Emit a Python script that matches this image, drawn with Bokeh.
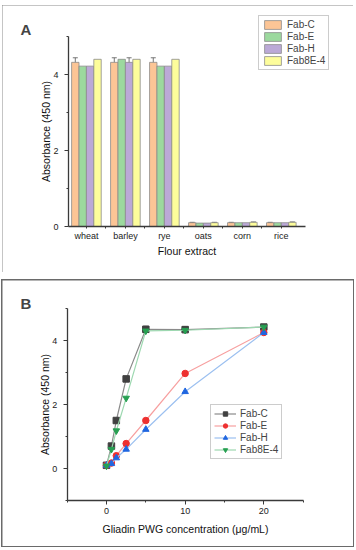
from bokeh.plotting import figure
from bokeh.layouts import column
from bokeh.models import (ColumnDataSource, FixedTicker, Legend, LegendItem, Label,
                          Whisker, TeeHead, Range1d, LinearAxis)
from bokeh.embed import file_html
from bokeh.resources import INLINE

# ---------------- Data: panel A ----------------
categories = ["wheat", "barley", "rye", "oats", "corn", "rice"]
series_a = ["Fab-C", "Fab-E", "Fab-H", "Fab8E-4"]
fab_c_a = [4.32, 4.32, 4.32, 0.10, 0.10, 0.10]
fab_e_a = [4.22, 4.40, 4.22, 0.09, 0.10, 0.10]
fab_h_a = [4.22, 4.32, 4.22, 0.09, 0.10, 0.10]
fab8_a = [4.40, 4.40, 4.40, 0.10, 0.11, 0.11]
err_c_a = [0.12, 0.12, 0.12, 0.01, 0.01, 0.01]
err_e_a = [0.0, 0.0, 0.0, 0.0, 0.0, 0.0]
err_h_a = [0.0, 0.12, 0.0, 0.0, 0.0, 0.0]
err8_a = [0.0, 0.0, 0.0, 0.01, 0.01, 0.01]
y_ticks_a = [0, 2, 4]

# ---------------- Data: panel B ----------------
conc = [0, 0.625, 1.25, 2.5, 5, 10, 20]
fab_c_b = [0.10, 0.70, 1.50, 2.80, 4.35, 4.34, 4.42]
fab_e_b = [0.10, 0.17, 0.40, 0.78, 1.50, 2.97, 4.25]
fab_h_b = [0.10, 0.15, 0.33, 0.60, 1.22, 2.40, 4.25]
fab8_b = [0.08, 0.60, 1.18, 2.20, 4.30, 4.32, 4.42]
err_c_b = [0.0, 0.0, 0.08, 0.0, 0.10, 0.10, 0.0]
x_ticks_b = [0, 10, 20]
y_ticks_b = [0, 2, 4]

FONT = "Liberation Sans"
AXIS_COLOR = "#3a3a3a"

def style_axis(ax, label_standoff, tick_label_standoff):
    ax.axis_line_color = AXIS_COLOR
    ax.axis_line_width = 1.3
    ax.major_tick_line_color = AXIS_COLOR
    ax.minor_tick_line_color = AXIS_COLOR
    ax.major_tick_out = 4
    ax.major_tick_in = 0
    ax.minor_tick_out = 2
    ax.minor_tick_in = 0
    ax.major_label_text_font = FONT
    ax.major_label_text_font_size = "9px"
    ax.major_label_text_color = "#222222"
    ax.axis_label_text_font = FONT
    ax.axis_label_text_font_size = "10.5px"
    ax.axis_label_text_font_style = "normal"
    ax.axis_label_text_color = "#111111"
    ax.axis_label_standoff = label_standoff
    ax.major_label_standoff = tick_label_standoff

def base_fig(w, h, xr, yr, margin, outline):
    p = figure(frame_width=w, frame_height=h, output_backend="svg", toolbar_location=None,
               x_range=Range1d(*xr), y_range=Range1d(*yr),
               x_axis_location=None, y_axis_location=None,
               min_border_left=0, min_border_right=0, min_border_top=0, min_border_bottom=0,
               margin=margin, styles={"outline": outline, "outline-offset": "-1px"})
    p.xgrid.visible = False
    p.ygrid.visible = False
    p.outline_line_color = None
    return p

# ---------------- Panel A ----------------
pa = base_fig(351, 267, (-1.153, 7.852), (-1.2105, 5.8158), (5, 0, 0, 2), "1px solid #8a8a8a")
ya = LinearAxis(fixed_location=0.54, bounds=(0, 5), axis_label="Absorbance (450 nm)",
                ticker=FixedTicker(ticks=y_ticks_a, minor_ticks=[1, 3, 5]))
style_axis(ya, -2, 6)
pa.add_layout(ya, "left")
xs = list(range(1, len(categories) + 1))
xa = LinearAxis(fixed_location=0, bounds=(0.54, 6.62), axis_label="Flour extract",
                ticker=FixedTicker(ticks=xs, minor_ticks=[i + 0.5 for i in range(1, len(categories))]),
                major_label_overrides={i + 1: c for i, c in enumerate(categories)})
style_axis(xa, 1, 2)
xa.major_tick_out = 2
pa.add_layout(xa, "below")

colors_a = ["#FCC596", "#9CD99E", "#BBA9D7", "#FDFD9B"]
vals_a = [fab_c_a, fab_e_a, fab_h_a, fab8_a]
errs_a = [err_c_a, err_e_a, err_h_a, err8_a]
bw = 0.19
offsets = [-1.5 * bw, -0.5 * bw, 0.5 * bw, 1.5 * bw]
items_a = []
for name, col, v, e, off in zip(series_a, colors_a, vals_a, errs_a, offsets):
    xpos = [x + off for x in xs]
    src = ColumnDataSource(dict(x=xpos, top=v))
    r = pa.vbar(x="x", top="top", width=bw, bottom=0, source=src,
                fill_color=col, line_color="#8c8c8c", line_width=0.8)
    items_a.append(LegendItem(label=name, renderers=[r]))
    ex = [xx for xx, ee in zip(xpos, e) if ee > 0]
    if ex:
        vv = [vv for vv, ee in zip(v, e) if ee > 0]
        ee_ = [ee for ee in e if ee > 0]
        esrc = ColumnDataSource(dict(x=ex, upper=[a + b for a, b in zip(vv, ee_)],
                                     lower=[a - b for a, b in zip(vv, ee_)]))
        w = Whisker(source=esrc, base="x", upper="upper", lower="lower",
                    line_color="#555555", line_width=0.8,
                    upper_head=TeeHead(size=5, line_color="#555555", line_width=0.8),
                    lower_head=TeeHead(size=5, line_color="#555555", line_width=0.8))
        pa.add_layout(w)

leg_a = Legend(items=items_a, location=(256, 202), orientation="vertical",
               glyph_width=21, glyph_height=11, label_text_font=FONT,
               label_text_font_size="10px", label_height=11, spacing=1,
               padding=3, margin=0, label_standoff=4,
               border_line_color="#9a9a9a", border_line_width=1,
               background_fill_alpha=1)
pa.add_layout(leg_a, "center")
pa.add_layout(Label(x=18, y=243, x_units="screen", y_units="screen", text="A",
                    text_font=FONT, text_font_size="15px", text_font_style="bold",
                    text_baseline="alphabetic"))

# ---------------- Panel B ----------------
pb = base_fig(351, 266, (-13.22, 31.40), (-2.4375, 5.875), (8, 0, 0, 2), "2px solid #6a6a6a")
yb = LinearAxis(fixed_location=-5, bounds=(-1, 5), axis_label="Absorbance (450 nm)",
                ticker=FixedTicker(ticks=y_ticks_b, minor_ticks=[-1, 1, 3, 5]))
style_axis(yb, -2, 6)
pb.add_layout(yb, "left")
xb = LinearAxis(fixed_location=-1, bounds=(-5, 25),
                axis_label="Gliadin PWG concentration (\u03bcg/mL)",
                ticker=FixedTicker(ticks=x_ticks_b, minor_ticks=[-5, 5, 15, 25]))
style_axis(xb, 6, 3)
pb.add_layout(xb, "below")

# error bars (Fab-C)
ebx = [x for x, e in zip(conc, err_c_b) if e > 0]
eby = [y for y, e in zip(fab_c_b, err_c_b) if e > 0]
ebe = [e for e in err_c_b if e > 0]
esrc_b = ColumnDataSource(dict(x=ebx, upper=[a + b for a, b in zip(eby, ebe)],
                               lower=[a - b for a, b in zip(eby, ebe)]))
pb.add_layout(Whisker(source=esrc_b, base="x", upper="upper", lower="lower",
                      line_color="#9a9a9a", line_width=0.8,
                      upper_head=TeeHead(size=5, line_color="#9a9a9a", line_width=0.8),
                      lower_head=TeeHead(size=5, line_color="#9a9a9a", line_width=0.8)))

series_b = [
    ("Fab-C", fab_c_b, "#8a8a8a", "#404040", "square"),
    ("Fab-E", fab_e_b, "#F7A0A0", "#EE3030", "circle"),
    ("Fab-H", fab_h_b, "#9CC0F0", "#1F66E0", "triangle"),
    ("Fab8E-4", fab8_b, "#9DD8B0", "#27A052", "inverted_triangle"),
]
items_b = []
for name, vals, lcol, mcol, mk in series_b:
    src = ColumnDataSource(dict(x=conc, y=vals))
    ln = pb.line("x", "y", source=src, line_color=lcol, line_width=1.2)
    sc = pb.scatter("x", "y", source=src, marker=mk, size=6.5, fill_color=mcol,
                    line_color=mcol)
    items_b.append(LegendItem(label=name, renderers=[ln, sc]))

leg_b = Legend(items=items_b, location=(208, 87), orientation="vertical",
               glyph_width=22, glyph_height=11, label_text_font=FONT,
               label_text_font_size="10px", label_height=11, spacing=1,
               padding=3, margin=0, label_standoff=4,
               border_line_color="#9a9a9a", border_line_width=1,
               background_fill_alpha=1)
pb.add_layout(leg_b, "center")
pb.add_layout(Label(x=18, y=243, x_units="screen", y_units="screen", text="B",
                    text_font=FONT, text_font_size="15px", text_font_style="bold",
                    text_baseline="alphabetic"))

layout = column(pa, pb, spacing=0)
open("out.html", "w").write(file_html(layout, INLINE))
